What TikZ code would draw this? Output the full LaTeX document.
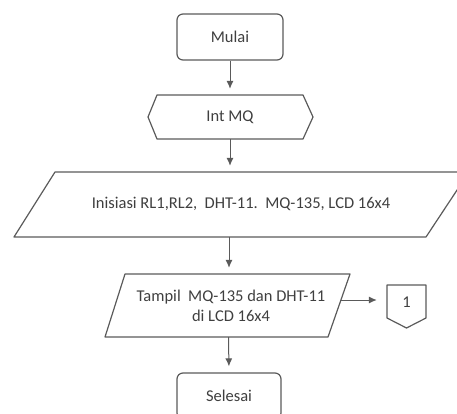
\documentclass[tikz,border=0pt]{standalone}
\usepackage{fontspec}
\setmainfont{Carlito}
\usetikzlibrary{arrows.meta}
\definecolor{linegray}{HTML}{5A5A5A}
\definecolor{textgray}{HTML}{3F3F3F}
\begin{document}
\begin{tikzpicture}[x=1pt,y=-1pt,
  every node/.style={font=\fontsize{16.5}{20}\selectfont, text=textgray, inner sep=0pt},
  outline/.style={draw=linegray, line width=1.2pt, line join=round},
  terminal/.style={outline, rounded corners=6pt, minimum height=46pt},
  flow/.style={-{Latex[length=8pt,width=7pt]}, draw=linegray, line width=1pt, shorten >=6pt}
]
\useasboundingbox (0,0) rectangle (457,414);
\begin{scope}
\clip (0,0) rectangle (457,414);

% start terminal
\node[terminal, minimum width=106pt] (start) at (230,37) {Mulai};

% preparation (hexagon)
\draw[outline] (148,117) -- (157,95) -- (303,95) -- (313,117) -- (303,139) -- (157,139) -- cycle;
\node[minimum width=165pt, minimum height=44pt] (prep) at (230,117) {\raisebox{-2pt}{Int MQ}};

% initialisation (parallelogram)
\draw[outline] (55,172) -- (469,172) -- (426,237) -- (14,237) -- cycle;
\node[minimum width=300pt, minimum height=65pt] (init) at (241,204.5)
  {\raisebox{3pt}{Inisiasi RL1,RL2,\ \ DHT-11.\ \ MQ-135,\ LCD 16x4}};

% output (parallelogram)
\draw[outline] (125,274) -- (350,274) -- (328,337) -- (105,337) -- cycle;
\node[minimum width=220pt, minimum height=63pt, align=center] (show) at (231,305.5)
  {Tampil\ \ MQ-135 dan DHT-11\\di LCD 16x4};

% off-page connector
\draw[outline] (387,285) -- (426,285) -- (426,318) -- (406.5,328) -- (387,318) -- cycle;
\node[minimum width=39pt, minimum height=30pt] (off) at (406.5,302) {1};

% end terminal
\node[terminal, minimum width=104pt] (stop) at (229,396) {Selesai};

% connectors
\draw[flow] (start.south) -- (start.south |- prep.north);
\draw[flow] (start.south |- prep.south) -- (start.south |- init.north);
\draw[flow] ([xshift=-1pt]start.south |- init.south) -- ([xshift=-1pt]start.south |- show.north);
\draw[flow] ([xshift=-1.5pt]start.south |- show.south) -- (stop.north);
\draw[flow, shorten >=10pt] ([yshift=5.5pt]show.east) -- ([yshift=5.5pt]show.east -| off.west);
\end{scope}
\end{tikzpicture}
\end{document}
